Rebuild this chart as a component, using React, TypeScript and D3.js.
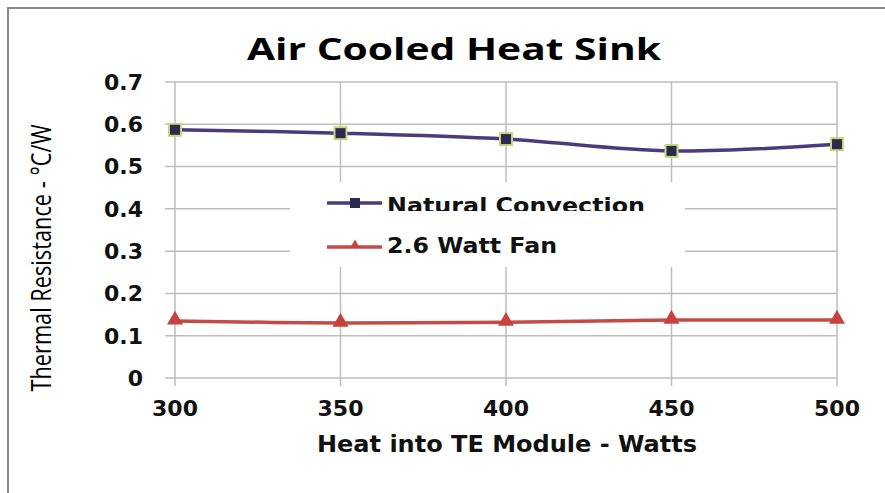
import { line, curveCatmullRom, scaleLinear, symbol, symbolTriangle } from 'd3'

const heatWatts = [300, 350, 400, 450, 500]
const naturalConvection = [0.587, 0.579, 0.565, 0.537, 0.553]
const wattFan = [0.135, 0.13, 0.132, 0.137, 0.137]
const yTickValues = [0, 0.1, 0.2, 0.3, 0.4, 0.5, 0.6, 0.7]
const xTickValues = [300, 350, 400, 450, 500]

const width = 885
const height = 493

const plot = {
  left: 175,
  right: 837,
  top: 82,
  bottom: 378,
}

const labelFont = '"DejaVu Sans", "Open Sans", sans-serif'
const narrowFont = '"Liberation Sans Narrow", "Open Sans", sans-serif'

function App() {
  const xScale = scaleLinear().domain([300, 500]).range([plot.left, plot.right])
  const yScale = scaleLinear().domain([0, 0.7]).range([plot.bottom, plot.top])

  const pathFor = (values: number[]) =>
    line<number>()
      .x((_, i) => xScale(heatWatts[i]))
      .y((v) => yScale(v))
      .curve(curveCatmullRom.alpha(0.5))(values) ?? ''

  const triangle = symbol().type(symbolTriangle).size(110)() ?? ''
  const legendTriangle = symbol().type(symbolTriangle).size(40)() ?? ''

  return (
    <div style={{ position: 'fixed', left: 0, top: 0 }}>
      <svg width={width} height={height} viewBox={`0 0 ${width} ${height}`}>
        <rect x={0} y={0} width={width} height={height} fill="#ffffff" />
        <rect
          x={8}
          y={8}
          width={width + 20}
          height={height + 20}
          fill="none"
          stroke="#8a8a8a"
          strokeWidth={2}
        />

        <text
          x={454}
          y={60}
          textAnchor="middle"
          fontFamily={'"Open Sans", sans-serif'}
          fontWeight="bold"
          fontSize={30}
          textLength={414}
          lengthAdjust="spacingAndGlyphs"
          fill="#000"
        >
          Air Cooled Heat Sink
        </text>

        {yTickValues.map((tick) => (
          <line
            key={`h-${tick}`}
            x1={plot.left - 10}
            x2={plot.right}
            y1={yScale(tick)}
            y2={yScale(tick)}
            stroke="#bdbdbd"
            strokeWidth={1.5}
          />
        ))}

        {xTickValues.map((tick) => (
          <line
            key={`v-${tick}`}
            x1={xScale(tick)}
            x2={xScale(tick)}
            y1={plot.top}
            y2={plot.bottom + 8}
            stroke="#bdbdbd"
            strokeWidth={1.5}
          />
        ))}

        {yTickValues.map((tick) => (
          <text
            key={`yl-${tick}`}
            x={143}
            y={yScale(tick)}
            dy="0.36em"
            textAnchor="end"
            fontFamily={labelFont}
            fontWeight="bold"
            fontSize={22}
            fill="#111"
          >
            {tick === 0 ? '0' : tick.toFixed(1)}
          </text>
        ))}

        {xTickValues.map((tick) => (
          <text
            key={`xl-${tick}`}
            x={xScale(tick)}
            y={416}
            textAnchor="middle"
            fontFamily={labelFont}
            fontWeight="bold"
            fontSize={22}
            fill="#111"
          >
            {tick}
          </text>
        ))}

        <text
          transform="translate(51, 258) rotate(-90)"
          textAnchor="middle"
          fontFamily={narrowFont}
          fontSize={27}
          textLength={267}
          lengthAdjust="spacingAndGlyphs"
          fill="#000"
        >
          Thermal Resistance - °C/W
        </text>

        <text
          x={507}
          y={452}
          textAnchor="middle"
          fontFamily={labelFont}
          fontWeight="bold"
          fontSize={23}
          textLength={380}
          lengthAdjust="spacingAndGlyphs"
          fill="#111"
        >
          Heat into TE Module - Watts
        </text>

        <path
          d={pathFor(naturalConvection)}
          fill="none"
          stroke="#4a3b7c"
          strokeWidth={3.5}
        />
        {naturalConvection.map((v, i) => (
          <rect
            key={`nc-${i}`}
            x={xScale(heatWatts[i]) - 6}
            y={yScale(v) - 6}
            width={12}
            height={12}
            fill="#2b2a4e"
            stroke="#c6d67a"
            strokeWidth={2}
          />
        ))}

        <path d={pathFor(wattFan)} fill="none" stroke="#c44b47" strokeWidth={3.5} />
        {wattFan.map((v, i) => (
          <path
            key={`fan-${i}`}
            d={triangle}
            transform={`translate(${xScale(heatWatts[i])}, ${yScale(v) - 1})`}
            fill="#c7413d"
          />
        ))}

        <rect x={290} y={182} width={395} height={85} fill="#ffffff" />
        <defs>
          <clipPath id="legend-clip">
            <rect x={290} y={182} width={395} height={29} />
          </clipPath>
        </defs>

        <line x1={327} x2={382} y1={203} y2={203} stroke="#4a3b7c" strokeWidth={3.5} />
        <rect x={350} y={198} width={10} height={10} fill="#2b2a4e" />
        <text
          x={387}
          y={213}
          clipPath="url(#legend-clip)"
          fontFamily={labelFont}
          fontWeight="bold"
          fontSize={21}
          textLength={258}
          lengthAdjust="spacingAndGlyphs"
          fill="#111"
        >
          Natural Convection
        </text>

        <line x1={327} x2={382} y1={247} y2={247} stroke="#c44b47" strokeWidth={3.5} />
        <path d={legendTriangle} transform="translate(355, 245)" fill="#c7413d" />
        <text
          x={387}
          y={253}
          fontFamily={labelFont}
          fontWeight="bold"
          fontSize={21}
          textLength={170}
          lengthAdjust="spacingAndGlyphs"
          fill="#111"
        >
          2.6 Watt Fan
        </text>
      </svg>
    </div>
  )
}

export default App
